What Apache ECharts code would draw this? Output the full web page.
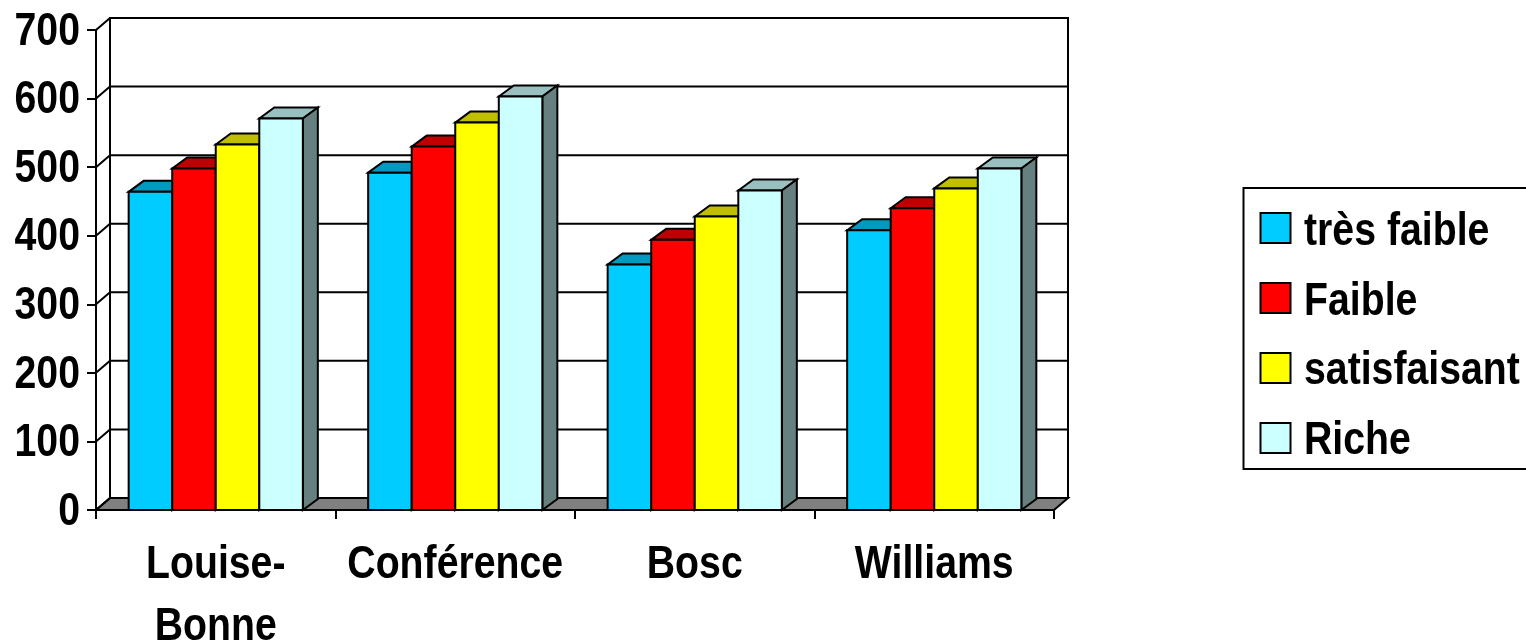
<!DOCTYPE html>
<html>
<head>
<meta charset="utf-8">
<style>html,body{margin:0;padding:0;background:#fff}#chart{width:1526px;height:640px}</style>
<script src="https://cdn.jsdelivr.net/npm/echarts@6/dist/echarts.min.js"></script>
</head>
<body>
<div id="chart"></div>
<script>
// Pear varieties and the score of each soil richness class
const categories = ['Louise-\nBonne', 'Conférence', 'Bosc', 'Williams'];
const tresFaible = [464, 492, 358, 408];
const faible = [498, 530, 394, 440];
const satisfaisant = [533, 565, 428, 469];
const riche = [571, 603, 466, 498];
const yTicks = [0, 100, 200, 300, 400, 500, 600, 700];

// Oblique projection offsets of the pseudo-3D look
const WALL_DX = 14, WALL_DY = -12;
const BAR_DX = 15, BAR_DY = -11;
const INK = '#000';
const LINE = 2;

// All labels share one condensed bold face: a bold sans squeezed horizontally
const LABEL_FONT = 'bold 46px "Liberation Sans",Arial,sans-serif';
const SQUEEZE = 0.853;
const labelStyle = (text, align) => ({text, align, verticalAlign: 'middle', fill: INK, font: LABEL_FONT});

const palette = [
  {name: 'très faible', data: tresFaible, front: '#00CCFF', top: '#0099BF', side: '#006680'},
  {name: 'Faible', data: faible, front: '#FF0000', top: '#BF0000', side: '#800000'},
  {name: 'satisfaisant', data: satisfaisant, front: '#FFFF00', top: '#BFBF00', side: '#808000'},
  {name: 'Riche', data: riche, front: '#CCFFFF', top: '#99BFBF', side: '#668080'}
];

const strokeStyle = fill => ({fill, stroke: INK, lineWidth: LINE, lineJoin: 'miter'});

// Back wall outline and floor, placed from the axis extent
function renderFrame(params, api) {
  const o = api.coord([0, 0]);
  const band = api.size([1, 0])[0];
  const x0 = o[0] - band / 2;
  const x1 = x0 + band * categories.length;
  const y0 = o[1];
  const y1 = api.coord([0, yTicks[yTicks.length - 1]])[1];
  const wall = [[x0 + WALL_DX, y1 + WALL_DY], [x1 + WALL_DX, y1 + WALL_DY], [x1 + WALL_DX, y0 + WALL_DY], [x0 + WALL_DX, y0 + WALL_DY]];
  const floor = [[x0, y0], [x0 + WALL_DX, y0 + WALL_DY], [x1 + WALL_DX, y0 + WALL_DY], [x1, y0]];
  return {type: 'group', children: [
    {type: 'polygon', shape: {points: wall}, style: strokeStyle('#fff')},
    {type: 'polygon', shape: {points: floor}, style: strokeStyle('#808080')}
  ]};
}

// One gridline per tick with its value label: slants from the axis to the wall, then runs along it
function renderGridline(params, api) {
  const value = api.value(0);
  const o = api.coord([0, value]);
  const band = api.size([1, 0])[0];
  const x0 = o[0] - band / 2;
  const x1 = x0 + band * categories.length;
  return {type: 'group', children: [
    {type: 'polyline', shape: {points: [[x0, o[1]], [x0 + WALL_DX, o[1] + WALL_DY], [x1 + WALL_DX, o[1] + WALL_DY]]},
      style: {fill: null, stroke: INK, lineWidth: LINE}},
    {type: 'text', x: x0 - 16, y: o[1] + 2, scaleX: SQUEEZE, style: labelStyle(String(value), 'right')}
  ]};
}

// Category names under the axis, one text per line
function renderCategoryLabel(params, api) {
  const idx = api.value(0);
  const o = api.coord([idx, 0]);
  const lines = categories[idx].split('\n');
  return {type: 'group', children: lines.map((line, i) => ({
    type: 'text', x: o[0], y: o[1] + 55 + i * 62, scaleX: SQUEEZE, style: labelStyle(line, 'center')
  }))};
}

// A box: front face from the scales, top and side faces offset by the projection
function makeBarRenderer(seriesIdx) {
  const c = palette[seriesIdx];
  return function (params, api) {
    const cat = api.value(0);
    const head = api.coord([cat, api.value(1)]);
    const foot = api.coord([cat, 0]);
    const band = api.size([1, 0])[0];
    const barW = band / 5.5;
    const x = head[0] - band / 2 + barW * (0.75 + seriesIdx);
    const yT = head[1], yB = foot[1];
    const top = [[x, yT], [x + BAR_DX, yT + BAR_DY], [x + barW + BAR_DX, yT + BAR_DY], [x + barW, yT]];
    const side = [[x + barW, yT], [x + barW + BAR_DX, yT + BAR_DY], [x + barW + BAR_DX, yB + BAR_DY], [x + barW, yB]];
    return {type: 'group', children: [
      {type: 'polygon', shape: {points: top}, style: strokeStyle(c.top)},
      {type: 'polygon', shape: {points: side}, style: strokeStyle(c.side)},
      {type: 'rect', shape: {x, y: yT, width: barW, height: yB - yT}, style: strokeStyle(c.front)}
    ]};
  };
}

const LEGEND_LEFT = 1243.5, LEGEND_TOP = 188;
const LEGEND_PAD_TOP = 24, LEGEND_SWATCH = 30, LEGEND_GAP = 38, LEGEND_STEP = 69.6;

const chart = echarts.init(document.getElementById('chart'), null, {renderer: 'canvas'});
chart.setOption({
  animation: false,
  backgroundColor: '#fff',
  grid: {left: 96, top: 30, width: 958, height: 480, containLabel: false, outerBoundsMode: 'none'},
  xAxis: {
    type: 'category', data: categories, boundaryGap: true,
    axisLine: {show: true, onZero: true, lineStyle: {color: INK, width: LINE}},
    axisTick: {show: true, length: 9, alignWithLabel: false, lineStyle: {color: INK, width: LINE}},
    axisLabel: {show: false}
  },
  yAxis: {
    type: 'value', min: 0, max: 700, interval: 100,
    splitLine: {show: false},
    axisLine: {show: true, lineStyle: {color: INK, width: LINE}},
    axisTick: {show: true, length: 9, lineStyle: {color: INK, width: LINE}},
    axisLabel: {show: false}
  },
  // Swatches and box come from the legend; the condensed names are laid over it
  legend: {
    data: palette.map(p => p.name), orient: 'vertical', left: LEGEND_LEFT, top: LEGEND_TOP,
    padding: [LEGEND_PAD_TOP, 270, 15, 16], itemGap: LEGEND_GAP, itemWidth: LEGEND_SWATCH, itemHeight: LEGEND_SWATCH, icon: 'rect',
    borderColor: INK, borderWidth: LINE, backgroundColor: '#fff',
    itemStyle: {borderColor: INK, borderWidth: LINE},
    selectedMode: false,
    formatter: () => ' ',
    textStyle: {fontSize: 12, lineHeight: 12}
  },
  graphic: palette.map((p, i) => ({
    type: 'text', z: 100, x: 1304,
    y: LEGEND_TOP + LEGEND_PAD_TOP + LEGEND_SWATCH / 2 + 5.5 + i * LEGEND_STEP,
    scaleX: SQUEEZE, style: labelStyle(p.name, 'left')
  })),
  series: [
    {type: 'custom', name: 'cadre', silent: true, renderItem: renderFrame, data: [[0]], encode: {x: 0, y: 0}, z: 1},
    {type: 'custom', name: 'grille', silent: true, renderItem: renderGridline, data: yTicks.map(v => [v]), encode: {y: 0}, z: 1},
    {type: 'custom', name: 'variétés', silent: true, renderItem: renderCategoryLabel, data: categories.map((c, k) => [k]), encode: {x: 0}, z: 1},
    ...palette.map((p, i) => ({
      type: 'custom', name: p.name, silent: true, renderItem: makeBarRenderer(i),
      itemStyle: {color: p.front},
      data: p.data.map((v, k) => [k, v]), encode: {x: 0, y: 1}, z: 3
    }))
  ]
});
</script>
</body>
</html>
